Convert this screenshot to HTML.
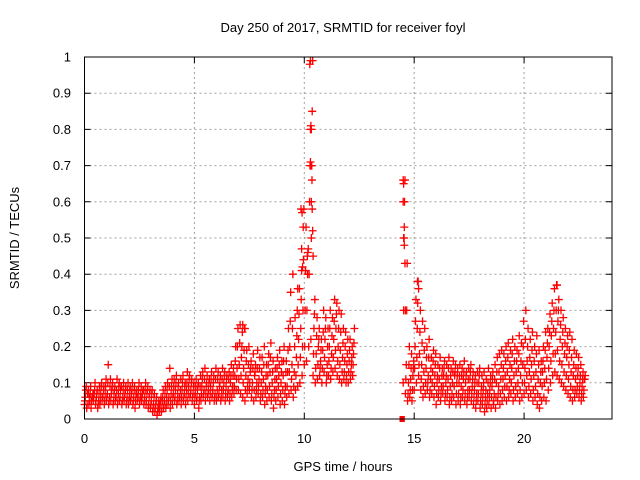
<!DOCTYPE html>
<html><head><meta charset="utf-8"><style>
body{margin:0;background:#fff;}
svg{display:block;font-family:"Liberation Sans",sans-serif;}
</style></head><body>
<svg id="chart" width="640" height="480">
<rect width="640" height="480" fill="#fff"/>
<text x="343" y="32" text-anchor="middle" font-size="13">Day 250 of 2017, SRMTID for receiver foyl</text>
<text x="343" y="471" text-anchor="middle" font-size="13">GPS time / hours</text>
<text transform="translate(19,238) rotate(-90)" text-anchor="middle" font-size="13">SRMTID / TECUs</text>
<g id="grid"></g>
<g id="ticks"></g>
<g id="marks"></g>
<rect x="84.5" y="57" width="527.5" height="362" fill="none" stroke="#000" stroke-width="1"/>
</svg>
<script>
const xTicks=[0,5,10,15,20];
const yTicks=[0,0.1,0.2,0.3,0.4,0.5,0.6,0.7,0.8,0.9,1];
const yTickLabels=["0","0.1","0.2","0.3","0.4","0.5","0.6","0.7","0.8","0.9","1"];
const timeStep=0.1;
const lowVals=[
.04,.03,.04,.03,.05,.04,.03,.04,.05,.04,
.05,.04,.05,.04,.05,.04,.05,.04,.05,.04,
.04,.05,.04,.03,.05,.04,.05,.04,.04,.03,
.03,.02,.02,.01,.02,.02,.03,.03,.04,.03,
.04,.05,.04,.05,.04,.05,.04,.05,.06,.05,
.04,.05,.03,.05,.06,.05,.06,.05,.06,.05,
.05,.06,.05,.06,.05,.06,.05,.06,.07,.08,
.08,.07,.06,.05,.07,.08,.06,.05,.06,.07,
.05,.06,.04,.05,.06,.05,.03,.05,.06,.04,
.05,.04,.06,.07,.08,.06,.08,.09,.10,.12,
.15,.16,.20,.22,.12,.10,.11,.12,.10,.13,
.10,.12,.11,.13,.14,.12,.11,.10,.11,.10,
.10,.11,.12,null,null,null,null,null,null,null,
null,null,null,null,null,null,null,null,null,null,
null,null,null,null,0,.10,.07,.05,.06,.05,
.08,.10,.12,.08,.06,.07,.08,.06,.07,.06,
.04,.06,.05,.07,.05,.06,.04,.05,.06,.04,
.05,.04,.06,.05,.04,.06,.05,.04,.03,.05,
.03,.04,.02,.03,.04,.03,.04,.03,.05,.04,
.05,.06,.05,.06,.07,.05,.06,.07,.05,.06,
.07,.08,.06,.07,.05,.06,.04,.03,.05,.06,
.05,.08,.10,.12,.13,.12,.11,.10,.09,.08,
.07,.06,.05,.06,.07,.06,.05,.06];
const lowerMidVals=[
.05,.04,.06,.05,.06,.05,.04,.05,.06,.05,
.06,.05,.07,.05,.06,.05,.06,.05,.06,.05,
.05,.06,.05,.05,.06,.05,.06,.05,.05,.04,
.04,.03,.03,.02,.03,.03,.04,.04,.05,.05,
.06,.06,.05,.06,.06,.06,.06,.07,.07,.06,
.06,.06,.05,.07,.07,.07,.07,.07,.07,.06,
.06,.07,.06,.08,.07,.07,.07,.08,.09,.11,
.11,.12,.10,.08,.09,.10,.08,.08,.08,.09,
.07,.08,.07,.08,.09,.07,.06,.08,.09,.07,
.08,.07,.09,.13,.11,.09,.12,.15,.17,.20,
.20,.30,.40,.50,.18,.14,.15,.14,.14,.17,
.12,.16,.14,.17,.19,.16,.15,.13,.13,.12,
.13,.13,.15,null,null,null,null,null,null,null,
null,null,null,null,null,null,null,null,null,null,
null,null,null,null,0,.30,.11,.07,.08,.08,
.14,.17,.15,.11,.09,.10,.10,.08,.10,.09,
.07,.08,.07,.09,.07,.08,.06,.07,.09,.07,
.07,.06,.08,.07,.06,.08,.07,.06,.05,.07,
.05,.06,.04,.05,.06,.06,.05,.06,.07,.07,
.08,.09,.09,.08,.10,.08,.09,.10,.08,.10,
.10,.12,.09,.11,.08,.09,.07,.06,.09,.10,
.11,.14,.16,.18,.18,.19,.16,.15,.13,.12,
.11,.09,.08,.08,.09,.08,.07,.08];
const midVals=[
.06,.07,.05,.06,.07,.06,.05,.07,.06,.07,
.07,.06,.08,.07,.06,.07,.08,.06,.07,.06,
.06,.07,.06,.07,.06,.06,.07,.06,.07,.06,
.05,.04,.04,.03,.04,.05,.05,.06,.06,.07,
.07,.08,.07,.06,.08,.07,.08,.09,.08,.07,
.07,.08,.06,.09,.08,.09,.08,.09,.08,.07,
.08,.09,.08,.10,.09,.08,.10,.09,.12,.14,
.15,.17,.14,.12,.11,.13,.10,.12,.10,.11,
.10,.11,.09,.12,.13,.10,.08,.11,.12,.10,
.12,.09,.13,.20,.15,.13,.17,.22,.25,.30,
.30,.45,.60,.70,.25,.18,.20,.16,.19,.22,
.15,.20,.18,.22,.25,.20,.19,.17,.16,.15,
.16,.15,.18,null,null,null,null,null,null,null,
null,null,null,null,null,null,null,null,null,null,
null,null,null,null,0,.50,.15,.10,.11,.12,
.20,.25,.18,.15,.13,.14,.12,.11,.13,.12,
.10,.11,.09,.12,.10,.11,.09,.10,.12,.10,
.10,.09,.11,.10,.08,.11,.09,.08,.07,.10,
.07,.08,.06,.07,.08,.09,.07,.10,.09,.11,
.11,.12,.13,.11,.14,.12,.13,.14,.12,.15,
.14,.16,.13,.15,.12,.13,.11,.10,.13,.14,
.17,.20,.23,.25,.24,.27,.22,.20,.18,.17,
.15,.13,.12,.11,.12,.10,.09,.11];
const upperMidVals=[
.08,.07,.07,.06,.08,.07,.07,.09,.08,.09,
.10,.09,.09,.08,.08,.09,.09,.08,.08,.08,
.08,.08,.08,.07,.08,.07,.08,.08,.08,.07,
.07,.06,.05,.04,.05,.06,.07,.08,.09,.09,
.09,.10,.09,.08,.10,.09,.10,.11,.10,.09,
.09,.09,.09,.11,.11,.10,.10,.11,.10,.11,
.11,.10,.11,.12,.11,.11,.12,.12,.16,.20,
.21,.20,.19,.16,.15,.14,.14,.13,.14,.14,
.13,.15,.12,.15,.17,.13,.11,.14,.15,.13,
.16,.13,.19,.27,.25,.20,.23,.29,.33,.44,
.41,.46,.70,.85,.29,.23,.22,.19,.24,.25,
.20,.25,.23,.27,.29,.25,.24,.21,.20,.18,
.19,.17,.21,null,null,null,null,null,null,null,
null,null,null,null,null,null,null,null,null,null,
null,null,null,null,0,.60,.30,.15,.14,.14,
.27,.32,.24,.21,.19,.17,.17,.14,.16,.15,
.12,.14,.12,.14,.12,.14,.12,.13,.13,.12,
.12,.12,.13,.12,.11,.13,.11,.10,.10,.12,
.09,.10,.08,.10,.10,.11,.11,.13,.13,.15,
.14,.16,.17,.15,.18,.16,.16,.18,.16,.20,
.22,.20,.17,.19,.16,.18,.15,.13,.16,.19,
.21,.24,.27,.30,.30,.30,.26,.24,.21,.20,
.19,.17,.15,.14,.14,.12,.11,.11];
const highVals=[
.09,.08,.09,.07,.10,.08,.09,.10,.09,.11,
.15,.11,.10,.09,.11,.10,.09,.10,.09,.10,
.09,.10,.09,.08,.10,.09,.08,.10,.09,.08,
.08,.07,.06,.05,.06,.08,.09,.10,.14,.11,
.11,.12,.10,.11,.12,.10,.13,.12,.11,.10,
.11,.10,.12,.13,.14,.12,.11,.13,.12,.14,
.13,.12,.14,.13,.12,.13,.15,.14,.20,.25,
.26,.24,.25,.19,.20,.16,.18,.15,.19,.17,
.17,.20,.15,.18,.21,.16,.14,.17,.19,.16,
.20,.16,.25,.35,.40,.28,.30,.36,.41,.58,
.53,.47,.80,.99,.33,.28,.25,.22,.30,.28,
.25,.30,.28,.33,.32,.30,.29,.25,.24,.22,
.22,.20,.25,null,null,null,null,null,null,null,
null,null,null,null,null,null,null,null,null,null,
null,null,null,null,0,.66,.43,.20,.18,.16,
.33,.38,.30,.27,.25,.20,.22,.17,.19,.18,
.15,.17,.14,.16,.15,.17,.14,.16,.15,.14,
.15,.14,.16,.13,.14,.15,.13,.12,.13,.14,
.12,.13,.11,.14,.12,.13,.15,.17,.18,.19,
.18,.20,.21,.19,.22,.20,.19,.23,.21,.27,
.30,.25,.22,.24,.20,.23,.19,.16,.20,.24,
.25,.29,.32,.36,.37,.33,.30,.28,.25,.23,
.24,.22,.19,.18,.17,.15,.13,.12];
const spikeTimes=[10.25,10.28,10.3,10.32,10.28,10.3,10.35,10.32,10.36,10.38,9.85,9.9,9.95,9.88,9.92,9.7,14.5,14.52,14.5,14.55,14.52,14.55,14.58,14.6,15.15,15.2,7.2,7.3,21.5,10.4,10.15];
const spikeVals=[.98,.99,.81,.80,.71,.70,.66,.60,.58,.52,.58,.57,.53,.47,.42,.36,.66,.65,.60,.53,.50,.48,.43,.30,.38,.36,.26,.25,.37,.45,.40];

const X0=84.5,X1=612,Y0=419,Y1=57,XMAX=24;
const xs=v=>X0+(X1-X0)*v/XMAX;
const ys=v=>Y0-(Y0-Y1)*v;
const NS="http://www.w3.org/2000/svg";
const grid=document.getElementById('grid'),ticks=document.getElementById('ticks'),marks=document.getElementById('marks');
function mk(tag,attrs,parent){const e=document.createElementNS(NS,tag);for(const k in attrs)e.setAttribute(k,attrs[k]);parent.appendChild(e);return e;}
xTicks.forEach(t=>{
  const x=xs(t);
  if(t>0){const g=mk('line',{x1:x,x2:x,y1:Y0,y2:Y1,stroke:'#a0a0a0','stroke-dasharray':'2,3'},grid);
  
  }
  const a=mk('path',{d:`M${x},${Y0}v-6M${x},${Y1}v6`,stroke:'#000'},ticks);
  
  
  const l=mk('text',{x:x,y:443,'text-anchor':'middle','font-size':'13'},ticks);l.textContent=String(t);
  
  
});
yTicks.forEach((t,i)=>{
  const y=ys(t);
  if(t>0&&t<1){const g=mk('line',{x1:X0,x2:X1,y1:y,y2:y,stroke:'#a0a0a0','stroke-dasharray':'2,3'},grid);
  
  }
  const a=mk('path',{d:`M${X0},${y}h6M${X1},${y}h-6`,stroke:'#000'},ticks);
  
  
  const l=mk('text',{x:71,y:y+4.5,'text-anchor':'end','font-size':'13'},ticks);l.textContent=yTickLabels[i];
  
  
});
function plus(t,v){
  const x=xs(t),y=ys(v);
  const p=mk('path',{d:`M${x-4},${y}h8M${x},${y-4}v8`,stroke:'#f00','stroke-width':'1.3',fill:'none'},marks);
  
  
}
[lowVals,lowerMidVals,midVals,upperMidVals,highVals].forEach((arr,k)=>{
  arr.forEach((v,i)=>{
    if(v===null)return;
    const t=i*timeStep+k*0.02;
    if(v===0){const r=mk('rect',{x:xs(14.45)-2.5,y:ys(0)-3,width:5,height:6,fill:'#f00'},marks);
      
      return;}
    plus(t,v);
  });
});
spikeTimes.forEach((t,i)=>plus(t,spikeVals[i]));
</script>
</body></html>
